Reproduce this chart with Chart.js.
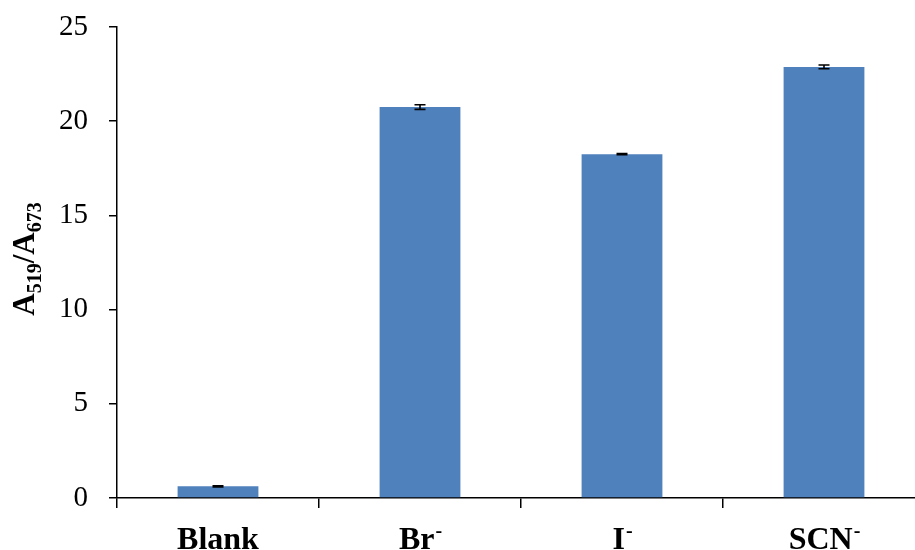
<!DOCTYPE html>
<html>
<head>
<meta charset="utf-8">
<script src="https://cdn.jsdelivr.net/npm/chart.js@4/dist/chart.umd.min.js"></script>
<style>
  html, body { margin: 0; padding: 0; background: #fff; overflow: hidden; }
  #wrap { width: 926px; height: 550px; }
</style>
</head>
<body>
<div id="wrap"><canvas id="c" width="926" height="550"></canvas></div>
<script>
// Anion categories: base text plus superscript charge
const categories = ['Blank', 'Br', 'I', 'SCN'];
const chargeSup = ['', '-', '-', '-'];
// Absorbance ratio A519/A673 and its standard deviation
const ratioValues = [0.62, 20.75, 18.25, 22.88];
const ratioErrors = [0.03, 0.12, 0.03, 0.10];
const yTicks = [0, 5, 10, 15, 20, 25];

const SERIF = '"Liberation Serif", "Times New Roman", serif';

// Error bars with short caps, drawn from the data arrays
const errorBars = {
  id: 'errorBars',
  afterDatasetsDraw(chart) {
    const { ctx, scales: { x, y } } = chart;
    ctx.save();
    ctx.strokeStyle = '#000';
    ctx.lineWidth = 1.6;
    ratioValues.forEach((v, i) => {
      const cx = x.getPixelForValue(i);
      const top = y.getPixelForValue(v + ratioErrors[i]);
      const bot = y.getPixelForValue(v - ratioErrors[i]);
      ctx.beginPath();
      ctx.moveTo(cx, top); ctx.lineTo(cx, bot);
      ctx.moveTo(cx - 5.5, top); ctx.lineTo(cx + 5.5, top);
      ctx.moveTo(cx - 5.5, bot); ctx.lineTo(cx + 5.5, bot);
      ctx.stroke();
    });
    ctx.restore();
  }
};

// Category labels with superscript charges, and the subscripted y-axis title
const labelsAndTitle = {
  id: 'labelsAndTitle',
  afterDraw(chart) {
    const { ctx, scales: { x } } = chart;
    ctx.save();
    ctx.fillStyle = '#000';
    ctx.textBaseline = 'alphabetic';
    ctx.textAlign = 'left';
    const baseFont = 'bold 32px ' + SERIF;
    const supFont = 'bold 20px ' + SERIF;
    categories.forEach((lab, i) => {
      ctx.font = baseFont;
      const w1 = ctx.measureText(lab).width;
      ctx.font = supFont;
      const w2 = chargeSup[i] ? ctx.measureText(chargeSup[i]).width : 0;
      const cx = x.getPixelForValue(i);
      const left = cx - (w1 + w2) / 2;
      const base = 549;
      ctx.font = baseFont;
      ctx.fillText(lab, left, base);
      if (chargeSup[i]) {
        ctx.font = supFont;
        ctx.fillText(chargeSup[i], left + w1 + 1, base - 12);
      }
    });

    // y title: A519/A673 rotated
    const parts = [
      ['A', false], ['519', true], ['/A', false], ['673', true]
    ];
    const mainF = 'bold 31px ' + SERIF;
    const subF = 'bold 20px ' + SERIF;
    let total = 0;
    parts.forEach(([t, sub]) => { ctx.font = sub ? subF : mainF; total += ctx.measureText(t).width; });
    ctx.translate(34, 259);
    ctx.rotate(-Math.PI / 2);
    let pos = -total / 2;
    parts.forEach(([t, sub]) => {
      ctx.font = sub ? subF : mainF;
      ctx.fillText(t, pos, sub ? 7 : 0);
      pos += ctx.measureText(t).width;
    });
    ctx.restore();
  }
};

new Chart(document.getElementById('c'), {
  type: 'bar',
  data: {
    labels: categories,
    datasets: [{
      data: ratioValues,
      backgroundColor: '#4F81BD',
      borderWidth: 0,
      categoryPercentage: 1.0,
      barPercentage: 0.4
    }]
  },
  options: {
    responsive: false,
    animation: false,
    devicePixelRatio: 1,
    layout: { padding: { top: 27, right: 1, left: 0, bottom: 0 } },
    plugins: { legend: { display: false }, tooltip: { enabled: false } },
    scales: {
      x: {
        grid: { display: true, drawOnChartArea: false, drawTicks: true, tickLength: 10, color: '#000', lineWidth: 1.5, offset: true },
        border: { color: '#000', width: 1.5 },
        ticks: { color: 'rgba(0,0,0,0)', font: { size: 10 } },
        afterFit(s) { s.height = 52; s.paddingLeft = 0; s.paddingRight = 0; }
      },
      y: {
        min: 0, max: 25,
        afterBuildTicks(s) { s.ticks = yTicks.map(v => ({ value: v })); },
        grid: { drawOnChartArea: false, drawTicks: true, tickLength: 8, color: '#000', lineWidth: 1.5 },
        border: { color: '#000', width: 1.5 },
        ticks: { color: '#000', padding: 21, font: { family: SERIF, size: 29 } },
        afterFit(s) { s.width = 117; s.paddingTop = 0; s.paddingBottom = 0; }
      }
    }
  },
  plugins: [errorBars, labelsAndTitle]
});
</script>
</body>
</html>
